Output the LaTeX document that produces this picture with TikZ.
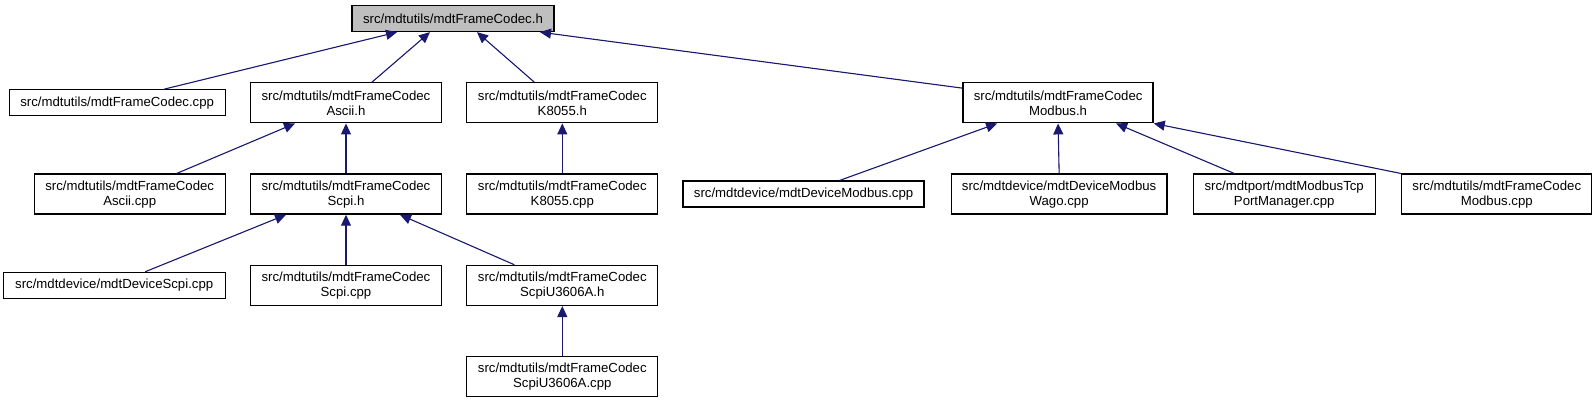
\documentclass[tikz,border=0pt]{standalone}
\usepackage{fontspec}
\setmainfont{Liberation Sans}
\usepackage{tikz}
\usetikzlibrary{arrows.meta,positioning}
\definecolor{EdgeNavy}{HTML}{191970}
\definecolor{RootGray}{HTML}{BFBFBF}

\begin{document}
\begin{tikzpicture}[
	x=0.5pt, y=-0.5pt,
	node distance=12pt,
	file/.style={
		draw=black,
		line width=0.65pt,
		minimum width=95.5pt,
		minimum height=20pt,
		align=center,
		font=\fontsize{6.6}{7.5}\selectfont,
		inner sep=1pt
	},
	single/.style={
		file,
		minimum height=13pt
	},
	dep/.style={
		-{Triangle[length=5.5pt,width=5pt]},
		line width=0.55pt,
		draw=EdgeNavy,
		fill=EdgeNavy
	}
]
\useasboundingbox (0,0) rectangle (1592,400);

\node[single, fill=RootGray, minimum width=101pt] (root) at (453,18.5)
	{src/mdtutils/mdtFrameCodec.h};

% first rank
\node[file, below=25pt of root, xshift=-53.5pt] (asciih)
	{src/mdtutils/mdtFrameCodec\\Ascii.h};
\node[single, minimum width=108pt, left=of asciih] (codeccpp)
	{src/mdtutils/mdtFrameCodec.cpp};
\node[file, right=of asciih] (k8055h)
	{src/mdtutils/mdtFrameCodec\\K8055.h};
\node[file, minimum width=95pt, right=152pt of k8055h] (modbush)
	{src/mdtutils/mdtFrameCodec\\Modbus.h};

% second rank
\node[file, below=25pt of asciih] (scpih)
	{src/mdtutils/mdtFrameCodec\\Scpi.h};
\node[file, left=of scpih] (asciicpp)
	{src/mdtutils/mdtFrameCodec\\Ascii.cpp};
\node[file, right=of scpih] (k8055cpp)
	{src/mdtutils/mdtFrameCodec\\K8055.cpp};
\node[single, minimum width=120.5pt, right=of k8055cpp] (devmodbus)
	{src/mdtdevice/mdtDeviceModbus.cpp};
\node[file, minimum width=107.75pt, right=13pt of devmodbus] (wago)
	{src/mdtdevice/mdtDeviceModbus\\Wago.cpp};
\node[file, minimum width=91pt, right=12.5pt of wago] (portmgr)
	{src/mdtport/mdtModbusTcp\\PortManager.cpp};
\node[file, minimum width=95.25pt, right=12.5pt of portmgr] (modbuscpp)
	{src/mdtutils/mdtFrameCodec\\Modbus.cpp};

% third and fourth rank
\node[file, below=25pt of scpih] (scpicpp)
	{src/mdtutils/mdtFrameCodec\\Scpi.cpp};
\node[single, minimum width=111pt, left=of scpicpp] (devscpi)
	{src/mdtdevice/mdtDeviceScpi.cpp};
\node[file, right=of scpicpp] (u3606h)
	{src/mdtutils/mdtFrameCodec\\ScpiU3606A.h};
\node[file, below=25pt of u3606h] (u3606cpp)
	{src/mdtutils/mdtFrameCodec\\ScpiU3606A.cpp};

\draw[dep] ([xshift=23.5pt]codeccpp.north) -- ([xshift=-28pt]root.south);
\draw[dep] ([xshift=13pt]asciih.north) -- ([xshift=-11.5pt]root.south);
\draw[dep] ([xshift=-14pt]k8055h.north) -- ([xshift=12pt]root.south);
\draw[dep] ([yshift=-3pt]modbush.north west) -- ([xshift=43.5pt]root.south);

\draw[dep] ([xshift=23.5pt]asciicpp.north) -- ([xshift=-25.5pt]asciih.south);
\draw[dep] (scpih.north) -- (asciih.south);
\draw[dep] (k8055cpp.north) -- (k8055h.south);

\draw[dep] ([xshift=15.5pt]devscpi.north) -- ([xshift=-30pt]scpih.south);
\draw[dep] (scpicpp.north) -- (scpih.south);
\draw[dep] ([xshift=-24pt]u3606h.north) -- ([xshift=27pt]scpih.south);
\draw[dep] (u3606cpp.north) -- (u3606h.south);

\draw[dep] ([xshift=18pt]devmodbus.north) -- ([xshift=-30.5pt]modbush.south);
\draw[dep] (wago.north) -- (modbush.south);
\draw[dep] ([xshift=-25pt]portmgr.north) -- ([xshift=29pt]modbush.south);
\draw[dep] (modbuscpp.north west) -- (modbush.south east);

\end{tikzpicture}
\end{document}
